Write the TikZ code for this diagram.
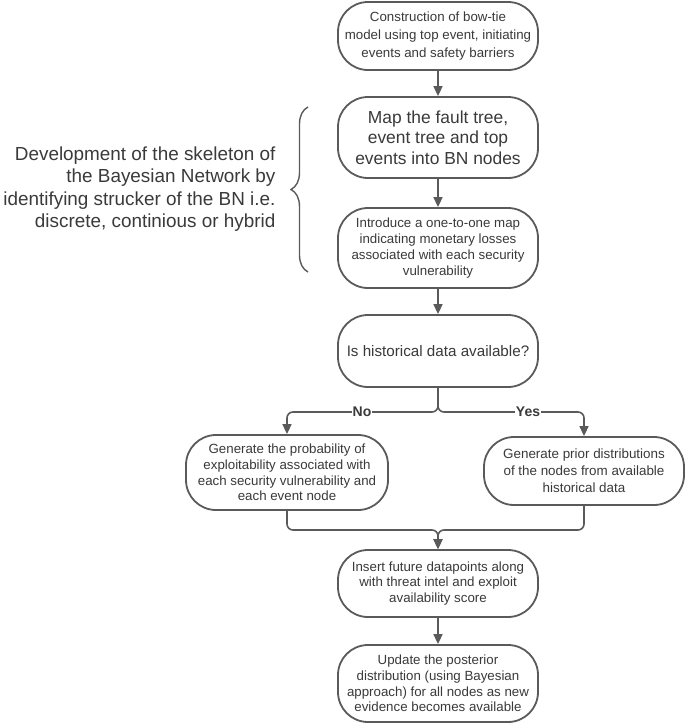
\documentclass[tikz,border=0pt]{standalone}
\usepackage{fontspec}
\setmainfont{Liberation Sans}
\usetikzlibrary{arrows.meta,decorations.pathreplacing}
\definecolor{linegray}{HTML}{5A5A5A}
\definecolor{textgray}{HTML}{3A3A3A}
\begin{document}
\begin{tikzpicture}[x=1pt,y=-1pt,
  term/.style={draw=linegray, line width=1.8pt, rounded corners=30pt, fill=white,
    minimum width=200pt, inner sep=0pt, align=center, text=textgray},
  small/.style={font=\fontsize{13.3}{15.8}\selectfont},
  conn/.style={draw=linegray, line width=1.6pt, rounded corners=6pt},
  arr/.style={conn, -{Triangle[length=10pt,width=9pt]}},
  lbl/.style={fill=white, inner sep=1pt, text=textgray, font=\bfseries\fontsize{14}{16}\selectfont}
]
\useasboundingbox (0,0) rectangle (685,724);

\node[term, minimum height=68pt, font=\fontsize{13.3}{18}\selectfont] (b1) at (438,36)
  {Construction of bow-tie\\model using top event, initiating\\events and safety barriers};
\node[term, minimum height=81pt, font=\fontsize{17.4}{20.5}\selectfont] (b2) at (438,137.5)
  {Map the fault tree,\\event tree and top\\events into BN nodes};
\node[term, small, minimum height=80pt] (b3) at (438,248)
  {Introduce a one-to-one map\\indicating monetary losses\\associated with each security\\vulnerability};
\node[term, minimum height=72pt, font=\fontsize{15.2}{17}\selectfont] (b4) at (438,351)
  {Is historical data available?};
\node[term, small, minimum height=75pt, minimum width=202pt] (b5) at (287,472.5)
  {Generate the probability of\\exploitability associated with\\each security vulnerability and\\each event node};
\node[term, minimum height=68pt, font=\fontsize{13.4}{17}\selectfont] (b6) at (584,471)
  {Generate prior distributions\\of the nodes from available\\historical data};
\node[term, small, minimum height=67pt] (b7) at (438,583.5)
  {Insert future datapoints along\\with threat intel and exploit\\availability score};
\node[term, small, minimum height=77pt] (b8) at (438,683.5)
  {Update the posterior\\distribution (using Bayesian\\approach) for all nodes as new\\evidence becomes available};

\node[anchor=east, align=right, text=textgray, font=\fontsize{18.9}{22.5}\selectfont] (side) at (279,189)
  {Development of the skeleton of\\the Bayesian Network by\\identifying strucker of the BN i.e.\\discrete, continious or hybrid};
\draw[linegray, line width=1.4pt, decorate, decoration={brace, amplitude=17pt}] (308,272) -- (308,107);

\draw[arr] (b1) -- (b2);
\draw[arr] (b2) -- (b3);
\draw[arr] (b3) -- (b4);
\coordinate (split) at (438,412);
\draw[arr] (b4.south) -- (split) -| (b5.north);
\draw[arr] (b4.south) -- (split) -| (b6.north);
\node[lbl] (no) at (362,412) {No};
\node[lbl] (yes) at (528,412) {Yes};
\coordinate (merge) at (438,530);
\draw[arr] (b5.south) |- (merge) -- (b7.north);
\draw[arr] (b6.south) |- (merge) -- (b7.north);
\draw[arr] (b7) -- (b8);
\end{tikzpicture}
\end{document}
